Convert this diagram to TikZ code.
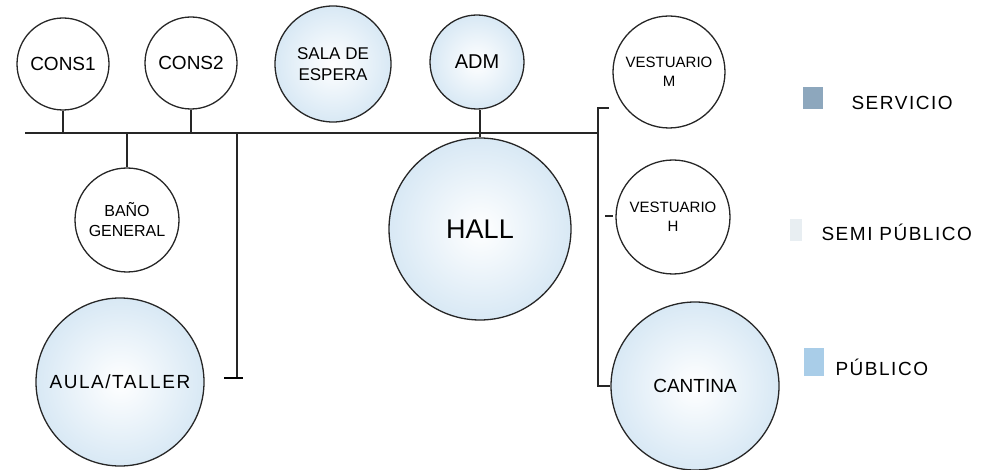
\documentclass[tikz,border=0pt]{standalone}
\usepackage{fontspec}
\setmainfont{Liberation Sans}
\newfontfamily\widehand[LetterSpace=8]{Liberation Sans}
\usepackage{tikz}
\usetikzlibrary{calc}
\definecolor{servicio}{HTML}{8DA7BD}
\definecolor{semipub}{HTML}{E8EEF2}
\definecolor{publico}{HTML}{A9CDE8}
\tikzset{
  every picture/.append style={font=\fontsize{19}{22}\selectfont},
  room/.style={circle,draw=black!85,line width=1.3pt,inner sep=0pt,align=center,minimum size=#1},
  pubroom/.style={room=#1,shade,inner color=white,outer color=publico!45},
  link/.style={line width=1.2pt,draw=black!85},
  swatch/.style={minimum width=20pt,minimum height=22pt,inner sep=0pt},
  legtext/.style={anchor=west,font=\widehand\fontsize{19}{22}\selectfont}
}

\begin{document}
\begin{tikzpicture}[x=1pt,y=-1pt]
    \useasboundingbox (0,0) rectangle (984,470);
    \node[room=92]      (cons1) at (63,64)   {CONS1};
    \node[room=92]      (cons2) at (191,63)  {CONS2};
    \node[pubroom=116,font=\fontsize{17}{21}\selectfont] (sala) at (333,64) {SALA DE\\ESPERA};
    \node[pubroom=94,font=\fontsize{20}{24}\selectfont]  (adm)  at (477,62)  {ADM};
    \node[room=104,font=\fontsize{16}{20}\selectfont] (bano) at (127,220) {BAÑO\\GENERAL};
    \node[pubroom=182,font=\fontsize{27}{30}\selectfont] (hall) at (480,229) {HALL};
    \node[pubroom=168,font=\widehand\fontsize{19}{22}\selectfont] (aula) at (120,382) {AULA/TALLER};
    \node[room=112,font=\fontsize{15}{19}\selectfont] (vesm) at (669,72)  {VESTUARIO\\M};
    \node[room=114,font=\fontsize{15}{19}\selectfont] (vesh) at (673,217) {VESTUARIO\\H};
    \node[pubroom=168,font=\fontsize{19}{22}\selectfont] (cant) at (695,386) {CANTINA};
    \coordinate (busL) at (25,133);
    \coordinate (busR) at (598,133);
    \coordinate (brT) at (598,108);
    \coordinate (brB) at (598,386);
    \coordinate (tickH) at (605,216);
    \coordinate (aulaT) at (237,378);
    \draw[link] (busL) -- (busR);
    \draw[link] (cons1.south) -- (cons1.south |- busL);
    \draw[link] (cons2.south) -- (cons2.south |- busL);
    \draw[link] (adm.south -| hall.north) -- (hall.north);
    \draw[link] (bano.north |- busL) -- (bano.north);
    \draw[link] (aulaT |- busL) -- (aulaT);
    \draw[line width=2.2pt] ($(aulaT)+(-13,0)$) -- ($(aulaT)+(6,0)$);
    \draw[link] ($(brT)+(11,0)$) -- (brT) -- (brB) -- (cant.west);
    \draw[link] (tickH) -- ++(8,0);
    \node[swatch,fill=servicio] (legS) at (813,98) {};
    \node[legtext] (legStxt) at (848,103) {SERVICIO};
    \node[swatch,fill=semipub,minimum width=12pt] (legSP) at (796,230) {};
    \node[legtext] (legSPtxt) at (818,232) {SEMI PÚBLICO};
    \node[swatch,fill=publico,minimum height=28pt] (legP) at (814,362) {};
    \node[legtext] (legPtxt) at (832,367) {PÚBLICO};
  \end{tikzpicture}
\end{document}
